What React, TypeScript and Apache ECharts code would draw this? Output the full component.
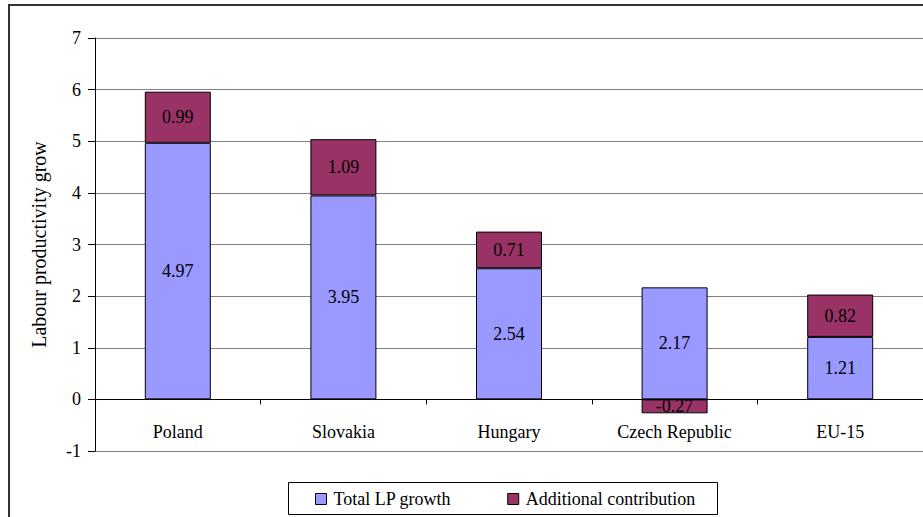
import React, { useEffect, useRef } from "react";
import * as echarts from "echarts";

const categories = ["Poland", "Slovakia", "Hungary", "Czech Republic", "EU-15"];
const totalLP = [4.97, 3.95, 2.54, 2.17, 1.21];
const additional = [0.99, 1.09, 0.71, -0.27, 0.82];
const yTicks = { min: -1, max: 7, interval: 1 };
const seriesNames = ["Total LP growth", "Additional contribution"];
const yAxisTitle = "Labour productivity grow";

const FONT = "Liberation Serif";

export default function App() {
  const ref = useRef<HTMLDivElement>(null);
  useEffect(() => {
    if (!ref.current) return;
    const chart = echarts.init(ref.current, null, { renderer: "svg" });
    const labelStyle = {
      show: true,
      position: "inside",
      color: "#000",
      fontSize: 18,
      fontFamily: FONT,
      formatter: (p: any) => String(p.value),
    };
    chart.setOption({
      animation: false,
      backgroundColor: "#fff",
      textStyle: { fontFamily: FONT },
      grid: {
        left: 95,
        right: 0,
        top: 38,
        bottom: 66,
        containLabel: false,
        outerBoundsMode: "none",
      },
      xAxis: {
        type: "category",
        data: categories,
        axisLine: { onZero: true, lineStyle: { color: "#000", width: 1 } },
        axisTick: { show: true, inside: false, length: 5, lineStyle: { color: "#000" } },
        axisLabel: { color: "#000", fontSize: 18, fontFamily: FONT, margin: -28, interval: 0 },
        splitLine: { show: false },
      },
      yAxis: {
        type: "value",
        min: yTicks.min,
        max: yTicks.max,
        interval: yTicks.interval,
        name: yAxisTitle,
        nameLocation: "middle",
        nameGap: 46,
        nameTextStyle: { color: "#000", fontSize: 20, fontFamily: FONT },
        axisLine: { show: true, lineStyle: { color: "#000", width: 1 } },
        axisTick: { show: true, inside: false, length: 7, lineStyle: { color: "#000" } },
        axisLabel: { color: "#000", fontSize: 18, fontFamily: FONT, margin: 14 },
        splitLine: { show: true, lineStyle: { color: "#808080", width: 1 } },
      },
      legend: {
        show: true,
        left: 315,
        top: 490,
        padding: 0,
        itemWidth: 11,
        itemHeight: 11,
        itemGap: 56,
        icon: "rect",
        itemStyle: { borderColor: "#000", borderWidth: 1 },
        textStyle: { color: "#000", fontSize: 18, fontFamily: FONT, padding: [0, 0, 0, 2] },
        data: seriesNames,
      },
      graphic: [
        {
          type: "rect",
          shape: { x: 9, y: 5, width: 1000, height: 600 },
          style: { fill: "none", stroke: "#333", lineWidth: 2 },
          silent: true,
        },
        {
          type: "rect",
          shape: { x: 288.5, y: 482.5, width: 429, height: 32 },
          style: { fill: "none", stroke: "#000", lineWidth: 1 },
          silent: true,
        },
      ],
      series: [
        {
          name: seriesNames[0],
          type: "bar",
          stack: "lp",
          barWidth: 66,
          data: totalLP,
          itemStyle: { color: "#9999FF", borderColor: "#000", borderWidth: 1 },
          label: labelStyle,
        },
        {
          name: seriesNames[1],
          type: "bar",
          stack: "lp",
          barWidth: 66,
          data: additional,
          itemStyle: { color: "#993366", borderColor: "#000", borderWidth: 1 },
          label: labelStyle,
        },
      ],
    });
    return () => chart.dispose();
  }, []);
  return (
    <div
      ref={ref}
      style={{ position: "fixed", left: 0, top: 0, width: 923, height: 517 }}
    />
  );
}
